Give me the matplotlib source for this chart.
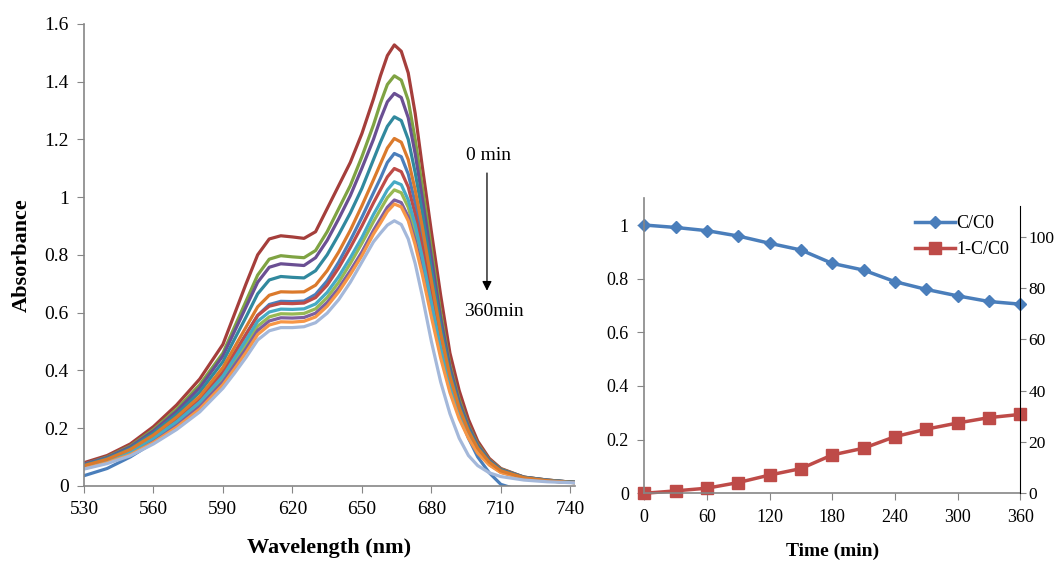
import matplotlib
matplotlib.use("Agg")
import matplotlib.pyplot as plt

plt.rcParams['font.family'] = ['Liberation Serif', 'DejaVu Serif']

# spectra: wavelength grid (nm) and absorbance
wl = [530, 540, 550, 560, 570, 580, 590, 595, 600, 605, 610, 615, 620, 625, 630, 635, 640,
      645, 650, 655, 658, 661, 664, 667, 670, 673, 676, 680, 684, 688, 692, 696, 700, 705, 710,
      720, 730, 740, 748]

a_blue = [0.035, 0.06, 0.10, 0.15, 0.215, 0.29, 0.39, 0.458, 0.525, 0.59, 0.628, 0.639, 0.638, 0.64, 0.663, 0.71, 0.775,
          0.85, 0.93, 1.015, 1.065, 1.12, 1.151, 1.14, 1.08, 0.98, 0.86, 0.68, 0.50, 0.355, 0.245, 0.165, 0.10, 0.045, 0.005,
          -0.02, -0.02, -0.02, -0.02]
a_red = [0.068, 0.09, 0.122, 0.17, 0.23, 0.30, 0.395, 0.46, 0.525, 0.59, 0.622, 0.632, 0.631, 0.633, 0.652, 0.695, 0.755,
         0.825, 0.90, 0.98, 1.025, 1.07, 1.099, 1.088, 1.035, 0.94, 0.83, 0.66, 0.495, 0.36, 0.26, 0.183, 0.125, 0.079, 0.05,
         0.027, 0.018, 0.012, 0.009]
a_green = [0.064, 0.085, 0.115, 0.16, 0.215, 0.282, 0.37, 0.43, 0.49, 0.553, 0.585, 0.596, 0.595, 0.597, 0.613, 0.652, 0.705,
           0.77, 0.84, 0.915, 0.957, 0.998, 1.025, 1.015, 0.965, 0.88, 0.775, 0.62, 0.47, 0.343, 0.247, 0.174, 0.12, 0.076, 0.048,
           0.026, 0.017, 0.012, 0.009]
a_purple = [0.063, 0.083, 0.112, 0.156, 0.21, 0.275, 0.36, 0.418, 0.475, 0.538, 0.571, 0.582, 0.581, 0.583, 0.598, 0.635, 0.685,
            0.745, 0.81, 0.885, 0.925, 0.965, 0.990, 0.981, 0.932, 0.85, 0.75, 0.60, 0.455, 0.333, 0.24, 0.17, 0.117, 0.074, 0.047,
            0.026, 0.017, 0.012, 0.009]
a_aqua = [0.066, 0.087, 0.118, 0.165, 0.222, 0.29, 0.38, 0.442, 0.505, 0.57, 0.602, 0.612, 0.611, 0.613, 0.63, 0.67, 0.725,
          0.79, 0.86, 0.94, 0.982, 1.025, 1.053, 1.043, 0.99, 0.905, 0.795, 0.635, 0.48, 0.35, 0.252, 0.178, 0.122, 0.077, 0.049,
          0.027, 0.018, 0.012, 0.009]
a_orange = [0.06, 0.08, 0.108, 0.15, 0.203, 0.266, 0.35, 0.405, 0.462, 0.524, 0.557, 0.568, 0.567, 0.57, 0.585, 0.622, 0.672,
            0.732, 0.797, 0.872, 0.91, 0.95, 0.976, 0.966, 0.918, 0.835, 0.735, 0.585, 0.443, 0.323, 0.232, 0.165, 0.113, 0.072, 0.046,
            0.025, 0.017, 0.012, 0.009]
a_dred = [0.080, 0.105, 0.145, 0.205, 0.28, 0.37, 0.49, 0.595, 0.70, 0.80, 0.855, 0.866, 0.862, 0.857, 0.88, 0.96, 1.04,
          1.12, 1.22, 1.34, 1.42, 1.49, 1.527, 1.505, 1.43, 1.29, 1.11, 0.88, 0.66, 0.46, 0.33, 0.23, 0.155, 0.095, 0.06,
          0.03, 0.02, 0.013, 0.01]
a_dgreen = [0.075, 0.10, 0.138, 0.195, 0.265, 0.35, 0.46, 0.55, 0.64, 0.73, 0.785, 0.797, 0.793, 0.79, 0.815, 0.88, 0.96,
            1.04, 1.14, 1.25, 1.325, 1.39, 1.42, 1.405, 1.335, 1.20, 1.04, 0.82, 0.60, 0.42, 0.30, 0.21, 0.145, 0.09, 0.058,
            0.03, 0.02, 0.013, 0.01]
a_dpurple = [0.075, 0.098, 0.135, 0.19, 0.258, 0.34, 0.45, 0.535, 0.62, 0.705, 0.757, 0.769, 0.766, 0.763, 0.79, 0.85, 0.925,
             1.005, 1.10, 1.20, 1.27, 1.33, 1.359, 1.345, 1.275, 1.15, 1.00, 0.79, 0.58, 0.41, 0.29, 0.205, 0.14, 0.088, 0.056,
             0.03, 0.02, 0.013, 0.01]
a_teal = [0.072, 0.095, 0.13, 0.183, 0.248, 0.325, 0.43, 0.508, 0.585, 0.665, 0.713, 0.725, 0.722, 0.72, 0.745, 0.80, 0.87,
          0.945, 1.03, 1.13, 1.19, 1.245, 1.278, 1.265, 1.20, 1.085, 0.95, 0.75, 0.555, 0.395, 0.28, 0.198, 0.135, 0.085, 0.054,
          0.029, 0.019, 0.013, 0.01]
a_dorange = [0.07, 0.092, 0.126, 0.176, 0.238, 0.31, 0.41, 0.48, 0.55, 0.62, 0.66, 0.672, 0.671, 0.672, 0.695, 0.745, 0.81,
             0.885, 0.97, 1.06, 1.115, 1.17, 1.203, 1.19, 1.13, 1.025, 0.90, 0.71, 0.53, 0.38, 0.27, 0.19, 0.13, 0.082, 0.052,
             0.028, 0.018, 0.012, 0.009]
a_grey = [0.058, 0.077, 0.104, 0.145, 0.195, 0.256, 0.338, 0.39, 0.445, 0.505, 0.537, 0.548, 0.548, 0.551, 0.565, 0.598, 0.645,
          0.705, 0.775, 0.845, 0.875, 0.903, 0.918, 0.905, 0.855, 0.77, 0.66, 0.50, 0.36, 0.25, 0.165, 0.105, 0.07, 0.045, 0.032,
          0.02, 0.014, 0.011, 0.008]

spectra = [a_blue, a_red, a_green, a_purple, a_aqua, a_orange,
           a_dred, a_dgreen, a_dpurple, a_teal, a_dorange, a_grey]
colors = ['#4A7EBB', '#BE4B48', '#98B954', '#7D60A0', '#46AAC5', '#F79646',
          '#A53E3B', '#7FA343', '#6A4F93', '#31899E', '#DB7A2C', '#A4B8DA']

# kinetics
t = [0, 30, 60, 90, 120, 150, 180, 210, 240, 270, 300, 330, 360]
c_c0 = [1.0, 0.991, 0.979, 0.959, 0.932, 0.907, 0.857, 0.832, 0.789, 0.760, 0.736, 0.715, 0.705]
one_minus = [0.0, 0.009, 0.019, 0.040, 0.068, 0.092, 0.143, 0.168, 0.211, 0.239, 0.262, 0.282, 0.294]

gcol = '#868686'

fig = plt.figure(figsize=(10.56, 5.61), dpi=100)

# ---- left: spectra ----
ax = fig.add_axes([0.0795, 0.134, 0.465, 0.8235])
for a, c in zip(spectra, colors):
    ax.plot(wl, a, color=c, lw=2.3, solid_joinstyle='round', solid_capstyle='round')
ax.set_xlim(530, 742)
ax.set_ylim(0, 1.6)
ax.set_xticks([530, 560, 590, 620, 650, 680, 710, 740])
ax.set_yticks([0, 0.2, 0.4, 0.6, 0.8, 1.0, 1.2, 1.4, 1.6])
ax.set_yticklabels(['0', '0.2', '0.4', '0.6', '0.8', '1', '1.2', '1.4', '1.6'])
for s in ['top', 'right']:
    ax.spines[s].set_visible(False)
for s in ['left', 'bottom']:
    ax.spines[s].set_color(gcol)
    ax.spines[s].set_linewidth(1.2)
ax.tick_params(direction='out', length=5, color=gcol, labelsize=14, pad=6)
ax.set_xlabel('Wavelength (nm)', fontsize=16, fontweight='bold', labelpad=14)
ax.set_ylabel('Absorbance', fontsize=16, fontweight='bold', labelpad=9)

ax.text(704.5, 1.145, '0 min', ha='center', va='center', fontsize=14)
ax.annotate('', xy=(704, 0.666), xytext=(704, 1.093),
            arrowprops=dict(arrowstyle='-|>', color='black', lw=0.9, mutation_scale=14))
ax.text(707, 0.603, '360min', ha='center', va='center', fontsize=14)

# ---- right: C/C0 ----
bx = fig.add_axes([0.6101, 0.1207, 0.356, 0.526])
bx.plot(t, c_c0, color='#4A7EBB', lw=2.5, marker='D', ms=6, label='C/C0')
bx.plot(t, one_minus, color='#BE4B48', lw=2.5, marker='s', ms=8, label='1-C/C0')
bx.set_xlim(0, 360)
bx.set_ylim(0, 1.1)
bx.set_xticks([0, 60, 120, 180, 240, 300, 360])
bx.set_yticks([0, 0.2, 0.4, 0.6, 0.8, 1.0])
bx.set_yticklabels(['0', '0.2', '0.4', '0.6', '0.8', '1'])
for s in ['top', 'right']:
    bx.spines[s].set_visible(False)
for s in ['left', 'bottom']:
    bx.spines[s].set_color(gcol)
    bx.spines[s].set_linewidth(1.2)
bx.tick_params(direction='out', length=5, color=gcol, labelsize=13, pad=6)
bx.set_xlabel('Time (min)', fontsize=14, fontweight='bold', labelpad=12)
for ln in bx.lines:
    ln.set_clip_on(False)
bx.legend(loc='upper right', bbox_to_anchor=(1.0, 0.98), frameon=False, fontsize=13,
          handlelength=2.2, handletextpad=0.1, labelspacing=0.5, borderaxespad=0.2)

rx = bx.twinx()
rx.set_ylim(0, 115)
rx.set_yticks([0, 20, 40, 60, 80, 100])
for s in ['top', 'left', 'bottom']:
    rx.spines[s].set_visible(False)
rx.spines['right'].set_bounds(0, 112)
rx.spines['right'].set_color('black')
rx.tick_params(direction='out', length=4, color=gcol, labelsize=12.5, pad=2)

fig.savefig('out.png', dpi=100)
